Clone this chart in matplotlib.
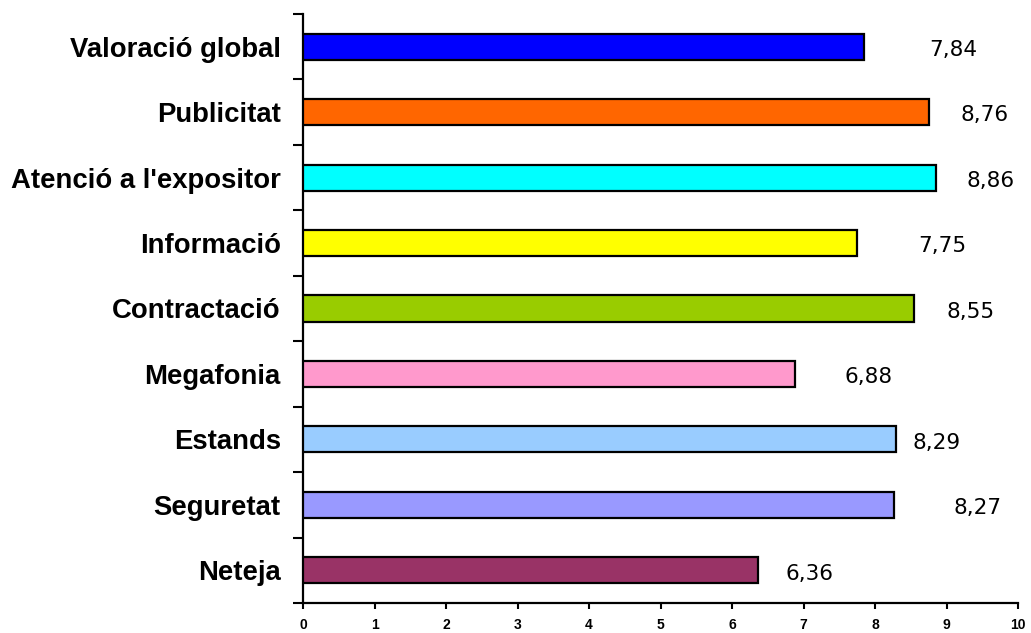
import matplotlib.pyplot as plt
import numpy as np

# data, top to bottom as in the chart
categories = [
    "Valoració global",
    "Publicitat",
    "Atenció a l'expositor",
    "Informació",
    "Contractació",
    "Megafonia",
    "Estands",
    "Seguretat",
    "Neteja",
]
scores = [7.84, 8.76, 8.86, 7.75, 8.55, 6.88, 8.29, 8.27, 6.36]
bar_colors = [
    "#0000FF", "#FF6600", "#00FFFF", "#FFFF00", "#99CC00",
    "#FF99CC", "#99CCFF", "#9999FF", "#993366",
]
x_ticks = list(range(0, 11))

# label placement (the source chart has loose, hand-ish offsets)
LABEL_DX = [0.92, 0.43, 0.42, 0.85, 0.45, 0.69, 0.24, 0.83, 0.39]
LABEL_DY = 0.05

fig = plt.figure(figsize=(10.31, 6.33), dpi=100)
ax = fig.add_axes([0.2939, 0.0474, 0.9874 - 0.2939, 0.9779 - 0.0474])

n = len(categories)
ypos = np.arange(n)[::-1]  # first category on top
ax.barh(ypos, scores, height=0.4, color=bar_colors,
        edgecolor="black", linewidth=1.6, zorder=3)

for y, v, dx in zip(ypos, scores, LABEL_DX):
    ax.text(v + dx, y - LABEL_DY, f"{v:.2f}".replace(".", ","),
            ha="left", va="center", fontsize=15.5, family="DejaVu Sans")

ax.set_xlim(0, 10)
ax.set_ylim(-0.5, n - 0.5)

ax.set_xticks(x_ticks)
ax.set_xticklabels([str(t) for t in x_ticks], fontsize=10, fontweight="bold",
                   family="Liberation Sans")
ax.tick_params(axis="x", direction="out", length=4, width=1.5, pad=7)

ax.set_yticks(ypos)
ax.set_yticklabels(categories, fontsize=19.8, fontweight="bold",
                   family="Liberation Sans")
ax.set_yticks(np.arange(-0.5, n, 1.0), minor=True)
ax.tick_params(axis="y", which="major", length=0, pad=16)
ax.tick_params(axis="y", which="minor", direction="out", length=7.5, width=1.5)

for side in ("top", "right"):
    ax.spines[side].set_visible(False)
for side in ("left", "bottom"):
    ax.spines[side].set_linewidth(1.6)

fig.savefig("out.png", dpi=100)
